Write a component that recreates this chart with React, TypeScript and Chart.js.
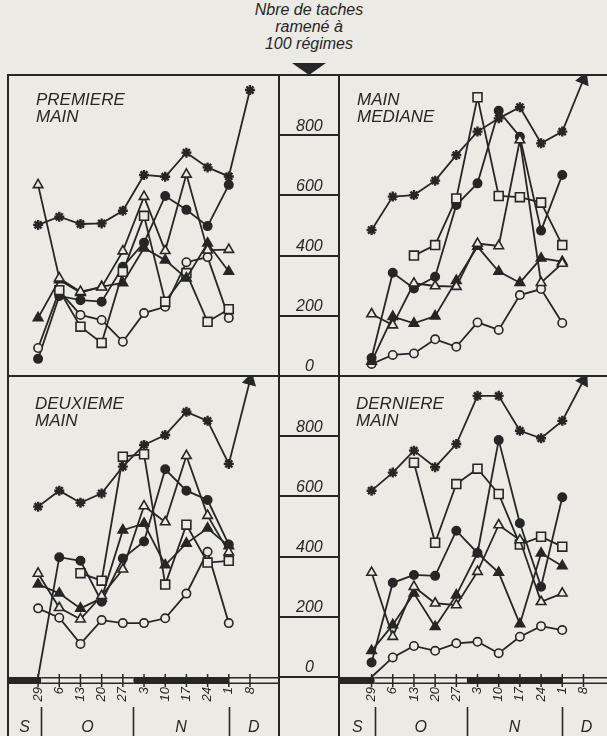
import React, { useEffect, useRef } from "react";
import { Chart, registerables } from "chart.js";

Chart.register(...registerables);

// ---------- tick labels ----------
const WEEK_LABELS = ["29", "6", "13", "20", "27", "3", "10", "17", "24", "1", "8"];
const MONTH_LABELS = ["S", "O", "N", "D"];
const MONTH_BREAKS = [0.15, 4.5, 9.0]; // week positions where the month changes
const Y_TICKS = [0, 200, 400, 600, 800];

// ---------- PREMIERE MAIN ----------
const P1_STAR = [502, 529, 505, 507, 549, 668, 662, 742, 693, 663, 950];
const P1_TRI_OPEN = [635, 325, 280, 295, 415, 596, 416, 670, 418, 420, null];
const P1_TRI_FILL = [193, 319, 277, 297, 309, 425, 385, 325, 441, 347, null];
const P1_SQ_OPEN = [null, 285, 164, 110, 346, 532, 247, 342, 180, 222, null];
const P1_CIRC_OPEN = [93, 283, 203, 186, 114, 209, 230, 378, 395, 193, null];
const P1_CIRC_FILL = [57, 266, 252, 247, 363, 443, 598, 552, 498, 635, null];

// ---------- MAIN MEDIANE ----------
const P2_STAR = [485, 596, 601, 649, 734, 812, 856, 893, 773, 812, 985];
const P2_TRI_OPEN = [206, 169, 308, 299, 297, 440, 432, 784, 310, 374, null];
const P2_TRI_FILL = [48, 197, 175, 199, 317, 430, 347, 310, 391, 380, null];
const P2_SQ_OPEN = [null, null, 400, 435, 590, 926, 598, 594, 576, 435, null];
const P2_CIRC_OPEN = [40, 70, 75, 122, 97, 178, 153, 269, 289, 176, null];
const P2_CIRC_FILL = [60, 343, 291, 330, 568, 640, 881, 795, 483, 668, null];

// ---------- DEUXIEME MAIN ----------
const P3_STAR = [566, 619, 579, 610, 699, 771, 804, 881, 851, 708, 985];
const P3_TRI_OPEN = [344, 230, 192, 270, 358, 568, 515, 735, 536, 415, null];
const P3_TRI_FILL = [308, 278, 228, 262, 488, 510, 372, 444, 494, 435, null];
const P3_SQ_OPEN = [null, null, 345, 320, 732, 740, 307, 506, 380, 386, null];
const P3_CIRC_OPEN = [228, 197, 110, 189, 179, 179, 195, 277, 416, 179, null];
const P3_CIRC_FILL = [0, 398, 386, 250, 394, 450, 690, 619, 588, 440, null];

// ---------- DERNIERE MAIN ----------
const P4_STAR = [619, 679, 752, 697, 774, 934, 934, 818, 793, 851, 985];
const P4_TRI_OPEN = [347, 134, 300, 245, 239, 350, 505, 455, 250, 278, null];
const P4_TRI_FILL = [87, 173, 278, 167, 272, 411, 347, 176, 411, 369, null];
const P4_SQ_OPEN = [null, null, 712, 446, 641, 692, 608, 440, 466, 433, null];
const P4_CIRC_OPEN = [0, 65, 103, 87, 112, 117, 79, 134, 169, 156, null];
const P4_CIRC_FILL = [48, 313, 339, 336, 486, 412, 787, 511, 300, 597, null];

// ---------- style ----------
const INK = "#262626";
const PAPER = "#ebeae5";
const FONT = "'Liberation Sans', Arial, sans-serif";

type Kind = "star" | "triOpen" | "triFill" | "sqOpen" | "circOpen" | "circFill";
interface Series {
  kind: Kind;
  values: (number | null)[];
  arrow?: boolean;
}

function panelSeries(
  star: (number | null)[],
  triOpen: (number | null)[],
  triFill: (number | null)[],
  sqOpen: (number | null)[],
  circOpen: (number | null)[],
  circFill: (number | null)[],
  arrow: boolean
): Series[] {
  return [
    { kind: "star", values: star, arrow },
    { kind: "triOpen", values: triOpen },
    { kind: "triFill", values: triFill },
    { kind: "sqOpen", values: sqOpen },
    { kind: "circOpen", values: circOpen },
    { kind: "circFill", values: circFill },
  ];
}

const RADIUS: Record<Kind, number> = {
  star: 5,
  triOpen: 5.5,
  triFill: 5.5,
  sqOpen: 6.3,
  circOpen: 4.2,
  circFill: 4.2,
};

function makeDataset(s: Series) {
  const filled = s.kind === "triFill" || s.kind === "circFill" || s.kind === "star";
  const base =
    s.kind === "star" ? "star" : s.kind === "triOpen" || s.kind === "triFill" ? "triangle" : s.kind === "sqOpen" ? "rect" : "circle";
  const isArrow = (i: number) => !!s.arrow && i === s.values.length - 1;
  return {
    data: s.values.map((v, i) => ({ x: i, y: v })),
    borderColor: INK,
    borderWidth: 1.8,
    tension: 0,
    fill: false,
    clip: false as any,
    pointStyle: (c: any) => (isArrow(c.dataIndex) ? "triangle" : base),
    pointRadius: (c: any) => {
      const v = s.values[c.dataIndex];
      if (v === 0) return 0;
      return isArrow(c.dataIndex) ? 6 : RADIUS[s.kind];
    },
    pointBackgroundColor: (c: any) => (isArrow(c.dataIndex) || filled ? INK : PAPER),
    pointBorderColor: INK,
    pointBorderWidth: s.kind === "star" ? 2.4 : 1.6,
    pointRotation: (c: any) => {
      const i = c.dataIndex;
      if (!isArrow(i)) return 0;
      const xs = c.chart.scales && c.chart.scales.x;
      const ys = c.chart.scales && c.chart.scales.y;
      if (!xs || !ys) return 0;
      const prev = s.values[i - 1] ?? 0;
      const cur = s.values[i] ?? 0;
      const dx = xs.getPixelForValue(i) - xs.getPixelForValue(i - 1);
      const dy = ys.getPixelForValue(cur) - ys.getPixelForValue(prev);
      return (Math.atan2(dx, -dy) * 180) / Math.PI;
    },
  };
}

function makeAxisBarPlugin(enabled: boolean) {
  return {
    id: "axisBar",
    afterDraw(chart: any) {
      if (!enabled) return;
      const xs = chart.scales.x;
      const { ctx, chartArea } = chart;
      const top = chartArea.bottom;
      const h = 7;
      const bounds = [xs.min, ...MONTH_BREAKS, xs.max];
      ctx.save();
      for (let m = 0; m < MONTH_LABELS.length; m++) {
        const a = xs.getPixelForValue(bounds[m]);
        const b = xs.getPixelForValue(bounds[m + 1]);
        if (m % 2 === 0) {
          ctx.fillStyle = INK;
          ctx.fillRect(a, top, b - a, h);
        } else {
          ctx.fillStyle = PAPER;
          ctx.fillRect(a, top, b - a, h);
          ctx.strokeStyle = INK;
          ctx.lineWidth = 1.6;
          ctx.beginPath();
          ctx.moveTo(a, top + 0.8);
          ctx.lineTo(b, top + 0.8);
          ctx.moveTo(a, top + h - 0.8);
          ctx.lineTo(b, top + h - 0.8);
          ctx.stroke();
        }
      }
      ctx.strokeStyle = INK;
      ctx.lineWidth = 1.5;
      WEEK_LABELS.forEach((_, i) => {
        const px = xs.getPixelForValue(i);
        ctx.beginPath();
        ctx.moveTo(px, top - 3);
        ctx.lineTo(px, top + h + 3);
        ctx.stroke();
      });
      ctx.lineWidth = 1.6;
      MONTH_BREAKS.forEach((b) => {
        const px = Math.round(xs.getPixelForValue(b)) + 0.5;
        ctx.beginPath();
        ctx.moveTo(px, top + 30);
        ctx.lineTo(px, chart.height);
        ctx.stroke();
      });
      ctx.fillStyle = INK;
      ctx.font = `italic 16px ${FONT}`;
      ctx.textAlign = "center";
      ctx.textBaseline = "middle";
      MONTH_LABELS.forEach((m, k) => {
        const c = (xs.getPixelForValue(bounds[k]) + xs.getPixelForValue(bounds[k + 1])) / 2;
        ctx.fillText(m, c, top + 51);
      });
      ctx.restore();
    },
  };
}

interface PanelProps {
  series: Series[];
  left: number;
  top: number;
  width: number;
  height: number;
  xRange: [number, number];
  showY: boolean;
  showX: boolean;
}

function PanelChart(props: PanelProps) {
  const ref = useRef<HTMLCanvasElement>(null);
  useEffect(() => {
    const canvas = ref.current;
    if (!canvas) return;
    const chart = new Chart(canvas, {
      type: "line",
      data: { datasets: props.series.map((s) => makeDataset(s)) as any },
      options: {
        animation: false,
        responsive: false,
        maintainAspectRatio: false,
        events: [],
        layout: { padding: 0, autoPadding: false } as any,
        plugins: { legend: { display: false }, tooltip: { enabled: false }, title: { display: false } },
        scales: {
          x: {
            type: "linear",
            min: props.xRange[0],
            max: props.xRange[1],
            display: props.showX,
            afterBuildTicks: (s: any) => {
              s.ticks = WEEK_LABELS.map((_, i) => ({ value: i }));
            },
            afterFit: (s: any) => {
              s.height = props.showX ? 59 : 0;
              s.paddingLeft = 0;
              s.paddingRight = 0;
            },
            ticks: {
              autoSkip: false,
              minRotation: 90,
              maxRotation: 90,
              padding: 10,
              color: INK,
              font: { family: FONT, size: 13, style: "italic" },
              callback: (v: any) => WEEK_LABELS[Math.round(Number(v))] ?? "",
            },
            grid: { display: false, drawTicks: false },
            border: { display: false },
          } as any,
          y: {
            type: "linear",
            min: 0,
            max: 1000,
            position: "right",
            display: props.showY,
            afterBuildTicks: (s: any) => {
              s.ticks = Y_TICKS.map((v) => ({ value: v }));
            },
            afterFit: (s: any) => {
              s.width = props.showY ? 61 : 0;
              s.paddingTop = 0;
              s.paddingBottom = 0;
            },
            ticks: {
              padding: -44,
              crossAlign: "center",
              labelOffset: -9,
              color: INK,
              font: { family: FONT, size: 16, style: "italic" },
              callback: (v: any) => String(v),
            },
            grid: { drawOnChartArea: false, drawTicks: true, tickLength: 61, color: INK, lineWidth: 2 },
            border: { display: false },
          } as any,
        },
      },
      plugins: [makeAxisBarPlugin(props.showX)],
    });
    return () => chart.destroy();
  }, []);
  return (
    <canvas
      ref={ref}
      width={props.width}
      height={props.height}
      style={{ position: "absolute", left: props.left, top: props.top, width: props.width, height: props.height }}
    />
  );
}

const LEFT_RANGE: [number, number] = [-1.42, 11.37];
const RIGHT_RANGE: [number, number] = [-1.49, 11.3];

function Line(p: { left: number; top: number; width: number; height: number }) {
  return <div style={{ position: "absolute", background: INK, ...p }} />;
}

function Title(p: { left: number; top: number; lines: string[] }) {
  return (
    <div
      style={{
        position: "absolute",
        left: p.left,
        top: p.top,
        fontFamily: FONT,
        fontStyle: "italic",
        fontSize: 17,
        lineHeight: "17px",
        color: INK,
        whiteSpace: "nowrap",
      }}
    >
      {p.lines.map((l, i) => (
        <div key={i}>{l}</div>
      ))}
    </div>
  );
}

export default function App() {
  return (
    <div
      style={{
        position: "relative",
        width: 607,
        height: 736,
        overflow: "hidden",
        background: PAPER,
        fontFamily: FONT,
        color: INK,
      }}
    >
      <style>{`html,body{margin:0;padding:0;background:${PAPER};overflow:hidden}`}</style>

      <div
        style={{
          position: "absolute",
          left: 209,
          width: 200,
          top: 1,
          textAlign: "center",
          fontStyle: "italic",
          fontSize: 16,
          lineHeight: "17px",
        }}
      >
        <div>Nbre de taches</div>
        <div>ramené à</div>
        <div>100 régimes</div>
      </div>
      <div
        style={{
          position: "absolute",
          left: 292,
          top: 63,
          width: 0,
          height: 0,
          borderLeft: "17px solid transparent",
          borderRight: "17px solid transparent",
          borderTop: `12px solid ${INK}`,
        }}
      />

      <PanelChart
        series={panelSeries(P1_STAR, P1_TRI_OPEN, P1_TRI_FILL, P1_SQ_OPEN, P1_CIRC_OPEN, P1_CIRC_FILL, false)}
        left={8}
        top={75}
        width={332}
        height={301}
        xRange={LEFT_RANGE}
        showY={true}
        showX={false}
      />
      <PanelChart
        series={panelSeries(P2_STAR, P2_TRI_OPEN, P2_TRI_FILL, P2_SQ_OPEN, P2_CIRC_OPEN, P2_CIRC_FILL, true)}
        left={340}
        top={75}
        width={271}
        height={301}
        xRange={RIGHT_RANGE}
        showY={false}
        showX={false}
      />
      <PanelChart
        series={panelSeries(P3_STAR, P3_TRI_OPEN, P3_TRI_FILL, P3_SQ_OPEN, P3_CIRC_OPEN, P3_CIRC_FILL, true)}
        left={8}
        top={376}
        width={332}
        height={360}
        xRange={LEFT_RANGE}
        showY={true}
        showX={true}
      />
      <PanelChart
        series={panelSeries(P4_STAR, P4_TRI_OPEN, P4_TRI_FILL, P4_SQ_OPEN, P4_CIRC_OPEN, P4_CIRC_FILL, true)}
        left={340}
        top={376}
        width={271}
        height={360}
        xRange={RIGHT_RANGE}
        showY={false}
        showX={true}
      />

      <Line left={7} top={74} width={600} height={2} />
      <Line left={7} top={375} width={600} height={2} />
      <Line left={7} top={74} width={2} height={662} />
      <Line left={278} top={74} width={2} height={662} />
      <Line left={338} top={74} width={2} height={662} />

      <Title left={36} top={91} lines={["PREMIERE", "MAIN"]} />
      <Title left={357} top={91} lines={["MAIN", "MEDIANE"]} />
      <Title left={35} top={395} lines={["DEUXIEME", "MAIN"]} />
      <Title left={356} top={395} lines={["DERNIERE", "MAIN"]} />
    </div>
  );
}
